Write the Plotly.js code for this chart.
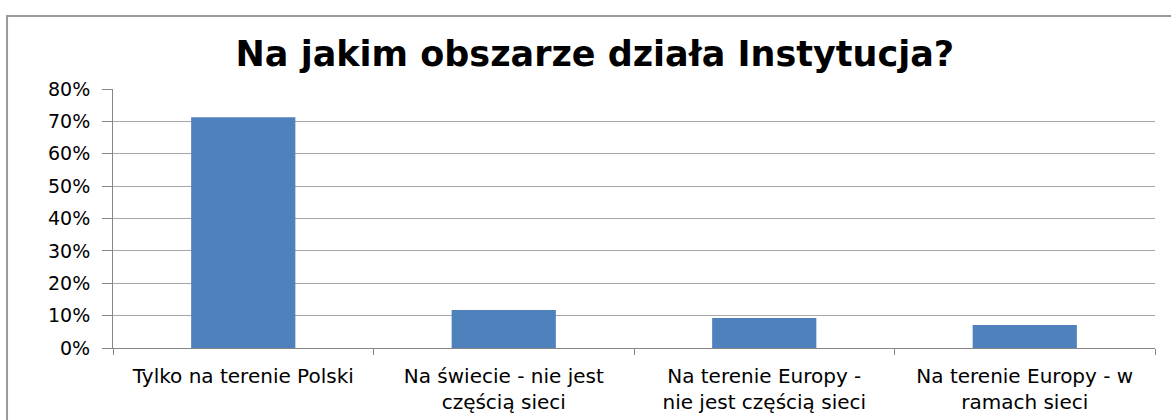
<!DOCTYPE html>
<html>
<head>
<meta charset="utf-8">
<script src="https://cdn.plot.ly/plotly-3.0.1.min.js"></script>
<style>
html, body { margin: 0; padding: 0; background: #ffffff; }
#chart { width: 1171px; height: 420px; }
</style>
</head>
<body>
<div id="chart"></div>
<script>
const categories = [
  "Tylko na terenie Polski",
  "Na świecie - nie jest<br>częścią sieci",
  "Na terenie Europy -<br>nie jest częścią sieci",
  "Na terenie Europy - w<br>ramach sieci"
];
const values = [0.713, 0.117, 0.093, 0.071];
const yTickVals = [0, 0.1, 0.2, 0.3, 0.4, 0.5, 0.6, 0.7, 0.8];
const yTickText = ["0%", "10%", "20%", "30%", "40%", "50%", "60%", "70%", "80%"];
const chartTitle = "Na jakim obszarze działa Instytucja?";

const trace = {
  type: "bar",
  x: categories,
  y: values,
  marker: { color: "#4f81bd", line: { width: 0 } },
  hoverinfo: "skip"
};

const layout = {
  width: 1171,
  height: 420,
  margin: { l: 113, r: 16, t: 89, b: 72 },
  paper_bgcolor: "#ffffff",
  plot_bgcolor: "#ffffff",
  showlegend: false,
  bargap: 0.6,
  title: {
    text: "<b>" + chartTitle + "</b>",
    font: { family: "DejaVu Sans", size: 35, color: "#000000" },
    x: 0.508, xref: "container", xanchor: "center",
    y: 0.873, yref: "container", yanchor: "middle"
  },
  xaxis: {
    type: "category",
    showline: true, linecolor: "#868686", linewidth: 1,
    ticks: "outside", tickson: "boundaries", ticklen: 6, tickcolor: "#868686",
    showgrid: false, zeroline: false,
    tickfont: { family: "DejaVu Sans", size: 20, color: "#000000" },
    ticklabelstandoff: 10,
    automargin: false
  },
  yaxis: {
    range: [0, 0.8],
    tickvals: yTickVals, ticktext: yTickText,
    showline: true, linecolor: "#868686", linewidth: 1,
    ticks: "outside", ticklen: 10, tickcolor: "#868686",
    showgrid: true, gridcolor: "#a6a6a6", gridwidth: 1,
    zeroline: false,
    tickfont: { family: "DejaVu Sans", size: 19, color: "#000000" },
    ticklabelstandoff: 8,
    automargin: false
  },
  shapes: [{
    type: "rect", xref: "paper", yref: "paper",
    x0: -0.1017, x1: 1.03, y0: -0.35, y1: 1.2819,
    line: { color: "#9a9a9a", width: 2 }, fillcolor: "rgba(0,0,0,0)", layer: "below"
  }]
};

Plotly.newPlot("chart", [trace], layout, { displayModeBar: false, staticPlot: true });
</script>
</body>
</html>
